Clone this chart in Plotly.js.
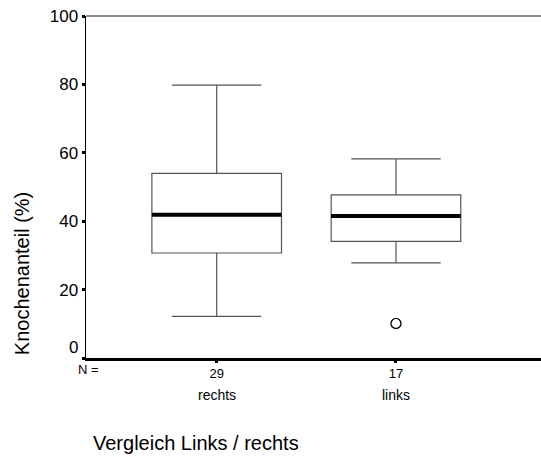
<!DOCTYPE html>
<html>
<head>
<meta charset="utf-8">
<script src="https://cdn.plot.ly/plotly-3.0.1.min.js"></script>
<style>html,body{margin:0;padding:0;background:#fff}#chart{width:541px;height:457px}</style>
</head>
<body>
<div id="chart"></div>
<script>
// ---- data ----
const categories = ['rechts', 'links'];
const nCounts = [29, 17];
const lowerWhisker = [12.2, 27.8];
const q1Values = [30.7, 34.1];
const medianValues = [41.9, 41.5];
const q3Values = [54.0, 47.7];
const upperWhisker = [79.8, 58.2];
const outlierCategoryIndex = [1];
const outlierValues = [10.1];
const yTickValues = [0, 20, 40, 60, 80, 100];

const positions = categories.map((c, i) => i);
const boxWidth = 0.723;
const font = 'Arial, "Liberation Sans", sans-serif';

const boxTrace = {
  type: 'box',
  x: positions,
  q1: q1Values,
  median: medianValues,
  q3: q3Values,
  lowerfence: lowerWhisker,
  upperfence: upperWhisker,
  width: boxWidth,
  whiskerwidth: 0.69,
  fillcolor: 'rgba(255,255,255,0)',
  line: {color: '#555', width: 1.2},
  boxpoints: false,
  hoverinfo: 'skip',
  showlegend: false
};

// thick median lines
const mx = [], my = [];
positions.forEach((p, i) => {
  mx.push(p - boxWidth / 2, p + boxWidth / 2, null);
  my.push(medianValues[i], medianValues[i], null);
});
const medianTrace = {
  type: 'scatter', mode: 'lines', x: mx, y: my,
  line: {color: '#000', width: 4}, hoverinfo: 'skip', showlegend: false
};

const outlierTrace = {
  type: 'scatter', mode: 'markers',
  x: outlierCategoryIndex.map(i => positions[i]),
  y: outlierValues,
  marker: {symbol: 'circle-open', size: 10, color: '#000', line: {width: 1.3, color: '#000'}},
  hoverinfo: 'skip', showlegend: false
};

const annotations = [
  {text: 'N =', xref: 'paper', yref: 'paper', x: 0.0055, y: -0.034, xanchor: 'center', yanchor: 'middle', showarrow: false, font: {family: font, size: 13, color: '#000'}},
  {text: String(yTickValues[0]), xref: 'paper', yref: 'paper', x: -0.0132, y: 0.032, xanchor: 'right', yanchor: 'middle', showarrow: false, font: {family: font, size: 17, color: '#000'}},
  {text: 'Vergleich Links / rechts', xref: 'paper', yref: 'paper', x: 0.242, y: -0.2476, xanchor: 'center', yanchor: 'middle', showarrow: false, font: {family: font, size: 20, color: '#000'}},
  {text: 'Knochenanteil (%)', xref: 'paper', yref: 'paper', x: -0.1407, y: 0.248, xanchor: 'center', yanchor: 'middle', textangle: -90, showarrow: false, font: {family: font, size: 20, color: '#000'}}
];
categories.forEach((c, i) => {
  annotations.push({text: c, xref: 'x', yref: 'paper', x: positions[i], y: -0.1095, xanchor: 'center', yanchor: 'middle', showarrow: false, font: {family: font, size: 14, color: '#000'}});
});

const layout = {
  width: 541, height: 457,
  margin: {l: 86, r: 0, t: 16, b: 98.5},
  paper_bgcolor: '#fff', plot_bgcolor: '#fff',
  font: {family: font, color: '#000'},
  showlegend: false,
  xaxis: {
    range: [-0.729, 1.809],
    tickvals: positions,
    ticktext: nCounts.map(String),
    tickfont: {family: font, size: 13, color: '#000'},
    ticks: 'outside', ticklen: 2, tickwidth: 3, tickcolor: '#000',
    showline: true, linecolor: '#000', linewidth: 2.5,
    showgrid: false, zeroline: false, fixedrange: true
  },
  yaxis: {
    range: [0, 100],
    tickvals: yTickValues,
    ticktext: yTickValues.map((v, i) => i === 0 ? '' : String(v)),
    tickfont: {family: font, size: 17, color: '#000'},
    ticks: 'outside', ticklen: 3, tickwidth: 3, tickcolor: '#000',
    showline: true, linecolor: '#000', linewidth: 1.5,
    showgrid: false, zeroline: false, fixedrange: true
  },
  shapes: [
    {type: 'line', xref: 'paper', yref: 'paper', x0: 0, x1: 1, y0: 1, y1: 1, line: {color: '#666', width: 1.5}}
  ],
  annotations: annotations
};

Plotly.newPlot('chart', [boxTrace, medianTrace, outlierTrace], layout, {staticPlot: true, displayModeBar: false});
</script>
</body>
</html>
